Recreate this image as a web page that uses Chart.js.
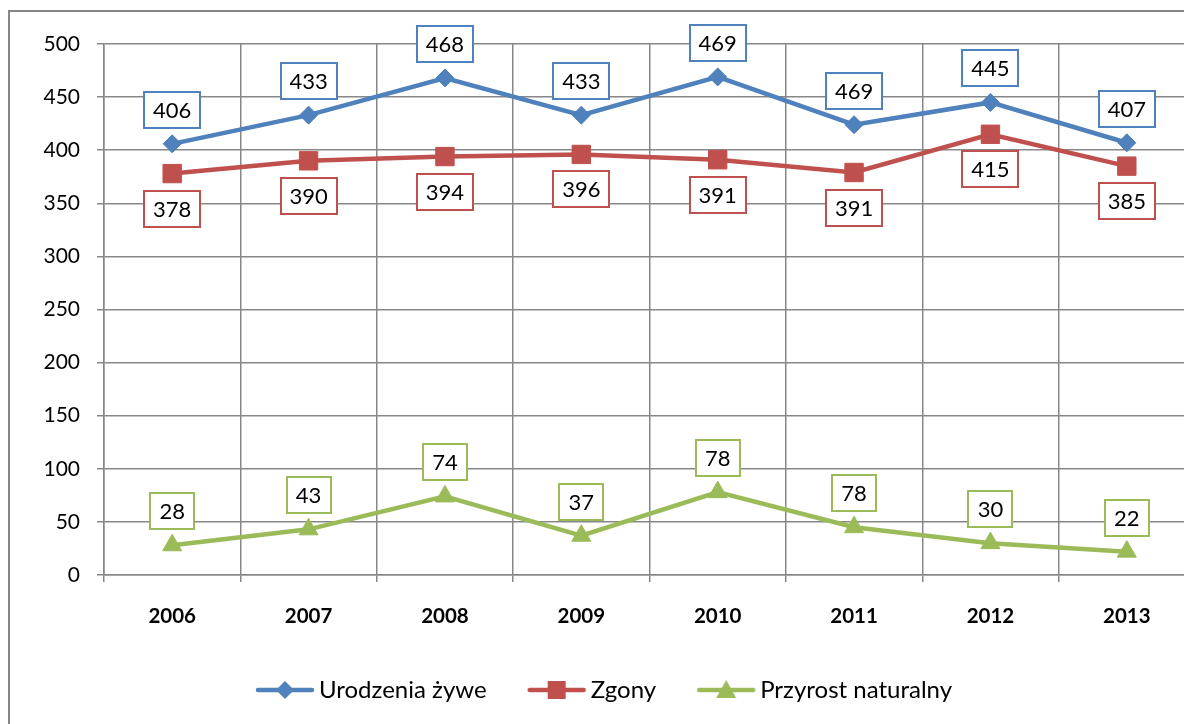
<!DOCTYPE html>
<html>
<head>
<meta charset="utf-8">
<script src="https://cdn.jsdelivr.net/npm/chart.js@4.4.1/dist/chart.umd.min.js"></script>
<style>
    html, body { margin: 0; padding: 0; background: #fff; overflow: hidden; }
    #wrap { position: absolute; left: 0; top: 0; width: 1238px; height: 724px; }
    #frame { position: absolute; left: 8px; top: 10px; width: 1300px; height: 800px; border: 2px solid #868686; pointer-events: none; }
</style>
</head>
<body>
<div id="wrap"><canvas id="chart"></canvas></div>
<div id="frame"></div>
<script>
const years = ['2006', '2007', '2008', '2009', '2010', '2011', '2012', '2013'];

// point values
const births = [406, 433, 468, 433, 469, 424, 445, 407];
const deaths = [378, 390, 394, 396, 391, 379, 415, 385];
const growth = [28, 43, 74, 37, 78, 45, 30, 22];

// the numbers printed in the label boxes (as shown, even where they differ)
const birthLabels = ['406', '433', '468', '433', '469', '469', '445', '407'];
const deathLabels = ['378', '390', '394', '396', '391', '391', '415', '385'];
const growthLabels = ['28', '43', '74', '37', '78', '78', '30', '22'];

const seriesNames = ['Urodzenia żywe', 'Zgony', 'Przyrost naturalny'];
const yMin = 0, yMax = 500, yStep = 50;

const BLUE = '#4F81BD', RED = '#C0504D', GREEN = '#9BBB59', GRID = '#878787';
const FONT = 'Lato, "Open Sans", sans-serif';

Chart.defaults.font.family = FONT;
Chart.defaults.color = '#000';

// legend icon: short line with the marker in the middle
function legendIcon(color, shape) {
    const c = document.createElement('canvas');
    c.width = 60; c.height = 24;
    const g = c.getContext('2d');
    g.strokeStyle = color; g.lineWidth = 4.5; g.lineCap = 'round';
    g.beginPath(); g.moveTo(3, 12); g.lineTo(57, 12); g.stroke();
    g.fillStyle = color;
    g.beginPath();
    if (shape === 'diamond') {
        g.moveTo(30, 3); g.lineTo(39, 12); g.lineTo(30, 21); g.lineTo(21, 12);
    } else if (shape === 'square') {
        g.rect(21, 3, 18, 18);
    } else {
        g.moveTo(30, 2); g.lineTo(40, 20); g.lineTo(20, 20);
    }
    g.closePath(); g.fill();
    return c;
}
const legendIcons = [legendIcon(BLUE, 'diamond'), legendIcon(RED, 'square'), legendIcon(GREEN, 'triangle')];

const boxLabels = {
    id: 'boxLabels',
    afterDatasetsDraw(chart) {
        const ctx = chart.ctx;
        ctx.save();
        ctx.font = '22px ' + FONT;
        ctx.textAlign = 'center';
        ctx.textBaseline = 'middle';
        chart.data.datasets.forEach((ds, i) => {
            const meta = chart.getDatasetMeta(i);
            meta.data.forEach((pt, j) => {
                const text = ds.boxText[j];
                const w = Math.round(ctx.measureText(text).width + 18);
                const h = 36;
                const x = Math.round(pt.x - w / 2);
                const y = Math.round(pt.y + ds.boxOffset - h / 2);
                ctx.fillStyle = '#fff';
                ctx.fillRect(x, y, w, h);
                ctx.strokeStyle = ds.borderColor;
                ctx.lineWidth = 2;
                ctx.strokeRect(x, y, w, h);
                ctx.fillStyle = '#000';
                ctx.fillText(text, pt.x, y + h / 2 + 1);
            });
        });
        ctx.restore();
    }
};

function makeSeries(label, data, color, style, radius, text, offset) {
    return {
        label: label,
        data: data,
        borderColor: color,
        backgroundColor: color,
        borderWidth: 4.5,
        pointStyle: style,
        pointRadius: radius,
        pointHoverRadius: radius,
        pointBackgroundColor: color,
        pointBorderColor: color,
        pointBorderWidth: 1,
        tension: 0,
        boxText: text,
        boxOffset: offset
    };
}

new Chart(document.getElementById('chart').getContext('2d'), {
    type: 'line',
    data: {
        labels: years,
        datasets: [
            makeSeries(seriesNames[0], births, BLUE, 'rectRot', 9, birthLabels, -34),
            makeSeries(seriesNames[1], deaths, RED, 'rect', 13, deathLabels, 35),
            makeSeries(seriesNames[2], growth, GREEN, 'triangle', 11, growthLabels, -34)
        ]
    },
    options: {
        responsive: true,
        maintainAspectRatio: false,
        animation: false,
        layout: { padding: { top: 44, right: 43, left: 20, bottom: 12 } },
        plugins: {
            tooltip: { enabled: false },
            legend: {
                position: 'bottom',
                labels: {
                    usePointStyle: true,
                    pointStyleWidth: 44,
                    padding: 48,
                    font: { size: 24 },
                    color: '#000',
                    generateLabels(chart) {
                        const items = Chart.defaults.plugins.legend.labels.generateLabels(chart);
                        items.forEach((it, i) => { it.pointStyle = legendIcons[i]; });
                        return items;
                    }
                }
            }
        },
        scales: {
            x: {
                offset: true,
                grid: { offset: true, color: GRID, lineWidth: 1.5, tickLength: 7, tickColor: GRID },
                border: { color: GRID, width: 1.5 },
                ticks: { font: { size: 20.5, weight: 'bold' }, padding: 22, color: '#000', maxRotation: 0 },
                afterFit(scale) { scale.height = 55; }
            },
            y: {
                min: yMin,
                max: yMax,
                grid: { color: GRID, lineWidth: 1.5, tickLength: 7, tickColor: GRID },
                border: { color: GRID, width: 1.5 },
                ticks: { stepSize: yStep, font: { size: 21 }, padding: 17, color: '#000' },
                afterFit(scale) { scale.width = 84; }
            }
        }
    },
    plugins: [boxLabels]
});
</script>
</body>
</html>
